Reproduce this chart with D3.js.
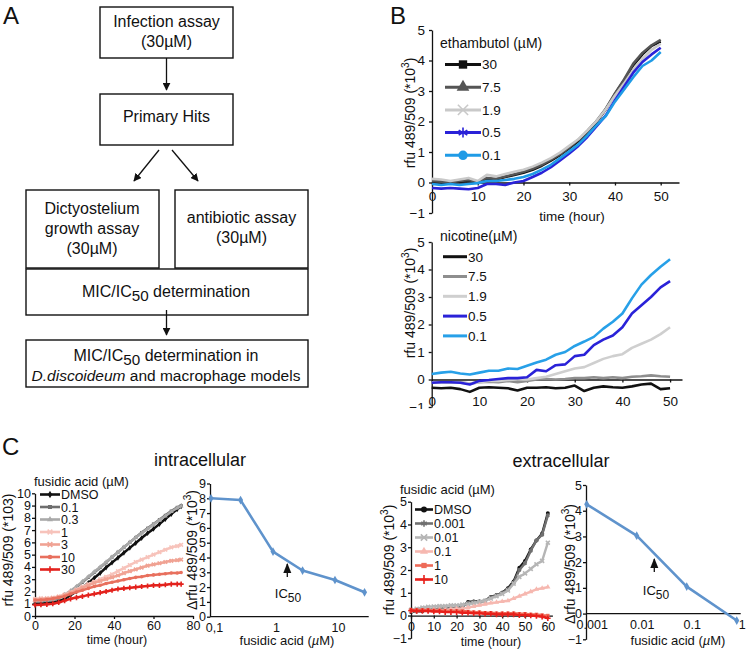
<!DOCTYPE html>
<html><head><meta charset="utf-8">
<script src="https://cdn.jsdelivr.net/npm/d3@7"></script>
<style>body{margin:0;background:#fff} text{font-family:"Liberation Sans",Arial,Helvetica,sans-serif;fill:#111}</style>
</head><body><svg id="c" width="747" height="650"></svg>
<script>
// ---------- DATA ----------
const ethTimes=[0,2,4,6,8,10,12,14,16,18,20,22,24,26,28,30,32,34,36,38,40,42,44,46,48,50];
const ethLabels=["30","7.5","1.9","0.5","0.1"];
const eth30 =[0.02,0.0,-0.02,0.03,0.05,0.0,0.12,0.1,0.18,0.25,0.32,0.42,0.55,0.72,0.9,1.12,1.35,1.65,1.98,2.4,2.9,3.35,3.85,4.2,4.48,4.62];
const eth7_5=[0.05,0.03,0.0,0.05,0.08,0.02,0.15,0.12,0.2,0.27,0.35,0.45,0.58,0.75,0.93,1.15,1.4,1.7,2.02,2.42,2.92,3.38,3.9,4.25,4.5,4.68];
const eth1_9=[0.12,0.1,0.05,0.1,0.15,0.05,0.25,0.2,0.28,0.35,0.42,0.52,0.65,0.8,0.98,1.2,1.42,1.7,2.02,2.4,2.85,3.25,3.7,4.05,4.35,4.55];
const eth0_5=[-0.18,-0.2,-0.18,-0.2,-0.22,-0.18,-0.05,-0.05,-0.08,0.0,0.05,0.18,0.32,0.5,0.72,0.95,1.2,1.5,1.85,2.2,2.7,3.15,3.6,3.95,4.2,4.42];
const eth0_1=[-0.05,-0.08,-0.05,-0.08,-0.05,-0.02,0.05,0.05,0.08,0.12,0.18,0.28,0.42,0.58,0.8,1.02,1.25,1.55,1.88,2.18,2.65,3.05,3.45,3.82,4.0,4.28];

const nicTimes=[0,2,4,6,8,10,12,14,16,18,20,22,24,26,28,30,32,34,36,38,40,42,44,46,48,50];
const nicLabels=["30","7.5","1.9","0.5","0.1"];
const nic30 =[-0.3,-0.32,-0.3,-0.35,-0.45,-0.3,-0.28,-0.3,-0.32,-0.4,-0.3,-0.3,-0.28,-0.32,-0.3,-0.22,-0.42,-0.3,-0.25,-0.28,-0.3,-0.25,-0.18,-0.15,-0.35,-0.32];
const nic7_5=[-0.12,-0.1,-0.12,-0.1,-0.15,-0.1,-0.08,-0.1,-0.05,-0.1,-0.05,0.0,0.02,0.0,0.02,0.05,0.05,0.08,0.05,0.08,0.05,0.1,0.12,0.15,0.12,0.1];
const nic1_9=[-0.1,-0.12,-0.1,-0.12,-0.15,-0.1,-0.05,-0.05,-0.02,0.0,0.0,0.05,0.1,0.2,0.3,0.4,0.45,0.6,0.75,0.85,0.92,1.15,1.3,1.45,1.65,1.9];
const nic0_5=[-0.12,-0.1,-0.1,-0.12,-0.18,-0.05,-0.02,0.02,0.05,0.05,0.08,0.35,0.3,0.52,0.55,0.85,0.9,1.25,1.45,1.6,1.9,2.4,2.7,3.0,3.35,3.58];
const nic0_1=[0.2,0.25,0.28,0.22,0.18,0.25,0.32,0.32,0.4,0.38,0.5,0.62,0.72,0.9,1.0,1.22,1.38,1.55,1.85,2.1,2.4,2.95,3.45,3.8,4.1,4.37];

const intraTimes=[0,3,6,9,12,15,18,21,24,27,30,33,36,39,42,45,48,51,54,57,60,63,66,69,72,74];
const intraLabels=["DMSO","0.1","0.3","1","3","10","30"];
const intraDMSO=[1.0,1.0,1.05,1.1,1.2,1.4,1.7,2.0,2.3,2.7,3.1,3.5,3.95,4.35,4.75,5.15,5.55,5.95,6.35,6.75,7.1,7.5,7.9,8.3,8.7,8.95];
const intra0_1=[1.2,1.2,1.25,1.3,1.45,1.7,2.0,2.35,2.75,3.15,3.55,3.95,4.35,4.8,5.2,5.6,6.0,6.4,6.8,7.15,7.5,7.85,8.2,8.55,8.85,9.0];
const intra0_3=[1.25,1.25,1.3,1.35,1.5,1.75,2.05,2.4,2.8,3.2,3.6,4.0,4.4,4.8,5.2,5.6,6.0,6.4,6.75,7.1,7.45,7.8,8.15,8.5,8.8,8.95];
const intra1=[1.4,1.45,1.45,1.5,1.6,1.75,1.95,2.15,2.4,2.6,2.8,3.0,3.2,3.4,3.65,3.9,4.15,4.4,4.6,4.8,5.0,5.2,5.4,5.6,5.7,5.8];
const intra3=[1.3,1.35,1.4,1.45,1.55,1.7,1.9,2.1,2.3,2.5,2.7,2.85,3.0,3.15,3.3,3.5,3.65,3.8,3.95,4.1,4.2,4.3,4.4,4.5,4.55,4.6];
const intra10=[1.3,1.3,1.35,1.4,1.5,1.6,1.8,1.95,2.1,2.25,2.4,2.5,2.65,2.75,2.85,2.95,3.05,3.15,3.2,3.3,3.35,3.4,3.45,3.5,3.5,3.55];
const intra30=[0.9,0.92,0.95,1.0,1.1,1.25,1.4,1.5,1.6,1.7,1.8,1.9,2.0,2.1,2.2,2.25,2.3,2.35,2.4,2.45,2.5,2.5,2.55,2.6,2.6,2.6];

const intraConc=[0.1,0.3,1,3,10,30];
const intraDelta=[8.0,7.88,4.4,3.12,2.48,1.65];
const intraConcTicks=[0.1,1,10];
const intraConcTickLabels=["0,1","1","10"];

const extraTimes=[0,2.5,5,7.5,10,12.5,15,17.5,20,22.5,25,27.5,30,32.5,35,37.5,40,42.5,45,47.5,50,52.5,55,57.5,60];
const extraLabels=["DMSO","0.001","0.01","0.1","1","10"];
const extraDMSO=[0.15,0.18,0.2,0.22,0.25,0.27,0.3,0.3,0.33,0.38,0.6,0.62,0.62,0.65,0.82,0.9,1.0,1.2,1.5,2.1,2.4,2.9,3.3,3.6,4.5];
const extra0_001=[0.2,0.22,0.25,0.25,0.28,0.3,0.32,0.32,0.35,0.4,0.55,0.6,0.6,0.65,0.8,0.9,1.0,1.15,1.45,2.0,2.3,2.85,3.3,3.55,4.4];
const extra0_01=[0.25,0.3,0.35,0.38,0.4,0.42,0.42,0.45,0.45,0.48,0.5,0.55,0.6,0.65,0.75,0.85,0.95,1.1,1.4,1.7,1.85,2.05,2.25,2.4,3.2];
const extra0_1=[0.2,0.2,0.22,0.22,0.25,0.25,0.25,0.28,0.3,0.3,0.35,0.4,0.45,0.5,0.55,0.58,0.62,0.65,0.75,0.85,0.95,1.05,1.15,1.2,1.25];
const extra1=[0.25,0.25,0.25,0.25,0.22,0.22,0.2,0.2,0.2,0.2,0.18,0.15,0.15,0.12,0.12,0.1,0.1,0.1,0.1,0.08,0.08,0.05,0.05,0.02,0.0];
const extra10=[0.22,0.2,0.2,0.2,0.18,0.18,0.15,0.15,0.15,0.12,0.12,0.1,0.1,0.08,0.08,0.05,0.05,0.05,0.05,0.02,0.02,0.0,-0.02,-0.05,-0.12];

const extraConc=[0.001,0.01,0.1,1];
const extraDelta=[4.25,3.03,1.05,-0.27];
const extraConcTicks=[0.001,0.01,0.1,1];
const extraConcTickLabels=["0.001","0.01","0.1","1"];

// ---------- HELPERS ----------
const svg=d3.select("#c");
svg.append("rect").attr("width",747).attr("height",650).attr("fill","#fff");
const defs=svg.append("defs");
defs.append("marker").attr("id","ah").attr("viewBox","0 0 10 10").attr("refX",9).attr("refY",5)
  .attr("markerWidth",8).attr("markerHeight",8).attr("markerUnits","userSpaceOnUse").attr("orient","auto")
  .append("path").attr("d","M0,0L10,5L0,10Z").attr("fill","#111");
defs.append("marker").attr("id","ah2").attr("viewBox","0 0 10 10").attr("refX",9).attr("refY",5)
  .attr("markerWidth",10).attr("markerHeight",10).attr("markerUnits","userSpaceOnUse").attr("orient","auto")
  .append("path").attr("d","M0,1L10,5L0,9Z").attr("fill","#111");

function rich(g,x,y,parts,size,anchor,rotate){
  const t=g.append("text").attr("x",x).attr("y",y).attr("font-size",size).attr("text-anchor",anchor||"middle");
  if(rotate) t.attr("transform",`rotate(${rotate},${x},${y})`);
  let cur=0;
  parts.forEach(p=>{
    const s=p.shift||0;
    const ts=t.append("tspan").text(p.t);
    if(s!==cur){ts.attr("dy",s-cur);cur=s;}
    if(p.size) ts.attr("font-size",p.size);
    if(p.italic) ts.attr("font-style","italic");
  });
  return t;
}
const SYM={square:d3.symbolSquare,triangle:d3.symbolTriangle,circle:d3.symbolCircle,diamond:d3.symbolDiamond,
  times:d3.symbolTimes||d3.symbolCross,asterisk:d3.symbolAsterisk||d3.symbolCross,plus:d3.symbolPlus||d3.symbolCross,cross:d3.symbolCross};
const STROKE_SYM=new Set(["times","asterisk","plus"]);
function sym(g,x,y,name,size,color){
  const p=g.append("path").attr("transform",`translate(${x},${y})`).attr("d",d3.symbol(SYM[name],size)());
  if(STROKE_SYM.has(name)) p.attr("fill","none").attr("stroke",color).attr("stroke-width",1.6);
  else p.attr("fill",color);
}
function styleAxis(a,fs){
  a.attr("font-family",null).attr("font-size",fs);
  a.selectAll("text").attr("fill","#111").style("font-family",'"Liberation Sans",Arial,sans-serif');
  a.selectAll("path,line").attr("stroke","#111").attr("stroke-width",1.3);
}

// ---------- PANEL A (flowchart) ----------
const A=svg.append("g");
A.append("text").attr("x",3).attr("y",24).attr("font-size",24).text("A");
function box(x,y,w,h){A.append("rect").attr("x",x).attr("y",y).attr("width",w).attr("height",h).attr("fill","none").attr("stroke","#111").attr("stroke-width",1.4);}
const FS=16;
box(100,7,133,51);
rich(A,166.5,27,[{t:"Infection assay"}],FS);
rich(A,166.5,47,[{t:"(30µM)"}],FS);
box(100,94,133,51);
rich(A,166.5,122,[{t:"Primary Hits"}],FS);
box(26,190,133,78);
rich(A,92,214,[{t:"Dictyostelium"}],FS);
rich(A,92,234,[{t:"growth assay"}],FS);
rich(A,92,254,[{t:"(30µM)"}],FS);
box(175,190,133,78);
rich(A,241.5,222.5,[{t:"antibiotic assay"}],FS);
rich(A,241.5,243,[{t:"(30µM)"}],FS);
box(26,269,282,46);
rich(A,166,297,[{t:"MIC/IC"},{t:"50",shift:4,size:FS*0.95},{t:" determination",shift:0}],FS);
box(26,340,282,47);
rich(A,166,361,[{t:"MIC/IC"},{t:"50",shift:4,size:FS*0.95},{t:" determination in",shift:0}],FS);
rich(A,166,381,[{t:"D.discoideum",italic:true},{t:" and macrophage models"}],15.5);
function arrow(x1,y1,x2,y2){A.append("line").attr("x1",x1).attr("y1",y1).attr("x2",x2).attr("y2",y2).attr("stroke","#111").attr("stroke-width",1.3).attr("marker-end","url(#ah)");}
arrow(166.5,58,166.5,90);
arrow(159,150,134,181);
arrow(172,150,198,181);
arrow(166.5,310,166.5,335);

// ---------- generic time-course panel ----------
let clipN=0;
function timePanel(o){
  const g=svg.append("g");
  if(o.clip){
    const id="clip"+(clipN++);
    defs.append("clipPath").attr("id",id).append("rect").attr("x",o.clip[0]).attr("y",o.clip[1]).attr("width",o.clip[2]).attr("height",o.clip[3]);
    g.attr("clip-path",`url(#${id})`);
  }
  const x=d3.scaleLinear().domain(o.xDomain).range(o.xRange);
  const y=d3.scaleLinear().domain(o.yDomain).range(o.yRange);
  const ya=g.append("g").attr("transform",`translate(${o.xRange[0]},0)`)
    .call(d3.axisLeft(y).tickValues(o.yTicks).tickSize(3).tickSizeOuter(0).tickPadding(o.yPad).tickFormat(d3.format("d")));
  styleAxis(ya,o.tickFS);
  const xa=g.append("g").attr("transform",`translate(0,${y(0)})`)
    .call(d3.axisBottom(x).tickValues(o.xTicks).tickSize(3).tickSizeOuter(0).tickPadding(o.xPad).tickFormat(d3.format("d")));
  styleAxis(xa,o.tickFS);
  const line=d3.line().x((d,i)=>x(o.times[i])).y(d=>y(d));
  o.series.forEach((s,k)=>{
    const st=o.styles[k];
    g.append("path").datum(s).attr("d",line).attr("fill","none").attr("stroke",st.c).attr("stroke-width",o.lw).attr("stroke-linejoin","round");
    if(o.pointMarkers){
      s.forEach((v,i)=>sym(g,x(o.times[i]),y(v),st.m,o.pointMarkerSize,st.c));
    }
  });
  rich(g,o.leg.x,o.leg.titleY,o.leg.title,o.leg.titleFS,"start");
  o.labels.forEach((lab,k)=>{
    const st=o.styles[k];const ly=o.leg.y0+o.leg.dy*k;
    g.append("line").attr("x1",o.leg.x1).attr("x2",o.leg.x2).attr("y1",ly).attr("y2",ly).attr("stroke",st.c).attr("stroke-width",o.leg.lw);
    if(o.leg.markers) sym(g,(o.leg.x1+o.leg.x2)/2,ly,st.m,o.leg.msize,st.c);
    g.append("text").attr("x",o.leg.x2+1).attr("y",ly).attr("dy","0.36em").attr("font-size",o.leg.fs).text(lab);
  });
  rich(g,o.xt.x,o.xt.y,[{t:"time (hour)"}],o.xt.fs);
  rich(g,o.yt.x,o.yt.y,o.yt.parts,o.yt.fs,"middle",-90);
  return g;
}
const supParts=(pre,fs)=>[{t:pre},{t:"3",shift:-fs*0.42,size:fs*0.72},{t:")",shift:0}];

// ---------- PANEL B ----------
svg.append("text").attr("x",390).attr("y",24).attr("font-size",24).text("B");
timePanel({
  xDomain:[0,54],xRange:[432,679],yDomain:[-1,5],yRange:[213,30],
  yTicks:[-1,0,1,2,3,4,5],xTicks:[0,10,20,30,40,50],tickFS:13.5,yPad:4,xPad:6,
  times:ethTimes,series:[eth30,eth7_5,eth1_9,eth0_5,eth0_1],labels:ethLabels,lw:2.6,
  styles:[{c:"#111",m:"square"},{c:"#555",m:"triangle"},{c:"#c9c9c9",m:"times"},{c:"#2a22d8",m:"asterisk"},{c:"#1f9be6",m:"circle"}],
  leg:{x:440,titleY:48,title:[{t:"ethambutol (µM)"}],titleFS:14,y0:64.5,dy:22.7,x1:445,x2:481,lw:3,fs:13.5,markers:true,msize:70},
  xt:{x:572,y:221,fs:13.5},
  yt:{x:415,y:113,fs:14,parts:supParts("rfu 489/509 (*10",14)}
});
timePanel({
  clip:[380,220,367,189],
  xDomain:[0,52.5],xRange:[431.7,682],yDomain:[-1,5],yRange:[407,242],
  yTicks:[-1,0,1,2,3,4,5],xTicks:[0,10,20,30,40,50],tickFS:13.5,yPad:4,xPad:14,
  times:nicTimes,series:[nic30,nic7_5,nic1_9,nic0_5,nic0_1],labels:nicLabels,lw:2.6,
  styles:[{c:"#111"},{c:"#8e8e8e"},{c:"#cfcfcf"},{c:"#2a22d8"},{c:"#27a0e8"}],
  leg:{x:440,titleY:241,title:[{t:"nicotine(µM)"}],titleFS:14,y0:256.7,dy:19.8,x1:443,x2:467,lw:3,fs:13.5,markers:false},
  xt:{x:572,y:419,fs:13.5},
  yt:{x:415,y:303,fs:14,parts:supParts("rfu 489/509 (*10",14)}
});

// ---------- PANEL C ----------
svg.append("text").attr("x",2).attr("y",455).attr("font-size",24).text("C");
svg.append("text").attr("x",200).attr("y",466).attr("font-size",18).attr("text-anchor","middle").text("intracellular");
svg.append("text").attr("x",561).attr("y",467).attr("font-size",18).attr("text-anchor","middle").text("extracellular");

timePanel({
  xDomain:[0,80],xRange:[35,193],yDomain:[0,10],yRange:[616,493.3],
  yTicks:[0,1,2,3,4,5,6,7,8,9,10],xTicks:[0,20,40,60,80],tickFS:12.5,yPad:1,xPad:2,
  times:intraTimes,series:[intraDMSO,intra0_1,intra0_3,intra1,intra3,intra10,intra30],labels:intraLabels,lw:2.5,
  pointMarkers:true,pointMarkerSize:10,
  styles:[{c:"#111",m:"diamond"},{c:"#6e6e6e",m:"square"},{c:"#a9a9a9",m:"triangle"},{c:"#f7c3bb",m:"times"},{c:"#f0a293",m:"times"},{c:"#e8705e",m:"circle"},{c:"#e3221d",m:"plus"}],
  leg:{x:34,titleY:486,title:[{t:"fusidic acid (µM)"}],titleFS:13,y0:494.5,dy:12.5,x1:40,x2:60,lw:2.6,fs:12.5,markers:true,msize:16},
  xt:{x:117,y:644,fs:12.5},
  yt:{x:13,y:550,fs:14,parts:[{t:"rfu 489/509 (*103)"}]}
});

timePanel({
  xDomain:[0,62],xRange:[411,552.4],yDomain:[-1,5],yRange:[638.3,501.7],
  yTicks:[-1,0,1,2,3,4,5],xTicks:[0,10,20,30,40,50,60],tickFS:12.5,yPad:1,xPad:4,
  times:extraTimes,series:[extraDMSO,extra0_001,extra0_01,extra0_1,extra1,extra10],labels:extraLabels,lw:2.4,
  pointMarkers:true,pointMarkerSize:12,
  styles:[{c:"#111",m:"circle"},{c:"#707070",m:"asterisk"},{c:"#b5b5b5",m:"times"},{c:"#f6b8b0",m:"triangle"},{c:"#ee6a58",m:"square"},{c:"#e8201b",m:"plus"}],
  leg:{x:400,titleY:494,title:[{t:"fusidic acid (µM)"}],titleFS:13,y0:509.5,dy:14,x1:415,x2:433,lw:2.6,fs:12.5,markers:true,msize:28},
  xt:{x:491,y:646,fs:12.5},
  yt:{x:394,y:560,fs:14,parts:supParts("rfu 489/509 (*10",14)}
});

function dosePanel(o){
  const g=svg.append("g");
  const x=d3.scaleLog().domain(o.xDomain).range(o.xRange);
  const y=d3.scaleLinear().domain(o.yDomain).range(o.yRange);
  const ya=g.append("g").attr("transform",`translate(${o.axisX},0)`)
    .call(d3.axisLeft(y).tickValues(o.yTicks).tickSize(3).tickSizeOuter(0).tickPadding(1).tickFormat(d3.format("d")));
  styleAxis(ya,12.5);
  const xa=g.append("g").attr("transform",`translate(0,${y(0)})`)
    .call(d3.axisBottom(x).tickValues(o.xTicks).tickSize(0).tickSizeOuter(0).tickPadding(o.xPad).tickFormat((d,i)=>o.xTickLabels[i]));
  styleAxis(xa,12.5);
  xa.select(".domain").attr("d",`M${o.axisX},0H${o.xRange[1]}`);
  xa.selectAll(".tick text").attr("dx",o.labelDx);
  const line=d3.line().x((d,i)=>x(o.conc[i])).y(d=>y(d));
  g.append("path").datum(o.vals).attr("d",line).attr("fill","none").attr("stroke","#5f93cc").attr("stroke-width",2.6).attr("stroke-linejoin","round");
  o.vals.forEach((v,i)=>sym(g,x(o.conc[i]),y(v),"diamond",22,"#5f93cc"));
  rich(g,o.xt.x,o.xt.y,[{t:"fusidic acid ("},{t:"µ",italic:true},{t:"M)"}],13);
  rich(g,o.yt.x,o.yt.y,supParts("Δrfu 489/509 (*10",14),14,"middle",-90);
  g.append("line").attr("x1",o.ic.x).attr("x2",o.ic.x).attr("y1",o.ic.y1).attr("y2",o.ic.y2).attr("stroke","#111").attr("stroke-width",1.3).attr("marker-end","url(#ah2)");
  rich(g,o.ic.tx,o.ic.ty,[{t:"IC"},{t:"50",shift:4,size:12}],13);
}
dosePanel({
  xDomain:[0.1,35],xRange:[211,368.7],axisX:210,yDomain:[0,9],yRange:[616.7,483.5],
  yTicks:[0,1,2,3,4,5,6,7,8,9],xTicks:intraConcTicks,xTickLabels:intraConcTickLabels,xPad:6,labelDx:3,
  conc:intraConc,vals:intraDelta,
  xt:{x:287,y:645},yt:{x:197,y:550},
  ic:{x:287.3,y1:577,y2:564,tx:288,ty:598}
});
dosePanel({
  xDomain:[0.001,1.2],xRange:[586.7,740.7],axisX:586,yDomain:[-1,5],yRange:[639.3,485],
  yTicks:[-1,0,1,2,3,4,5],xTicks:extraConcTicks,xTickLabels:extraConcTickLabels,xPad:7,labelDx:5,
  conc:extraConc,vals:extraDelta,
  xt:{x:678,y:645},yt:{x:575,y:564},
  ic:{x:654.3,y1:572,y2:559,tx:656,ty:595}
});
</script></body></html>
